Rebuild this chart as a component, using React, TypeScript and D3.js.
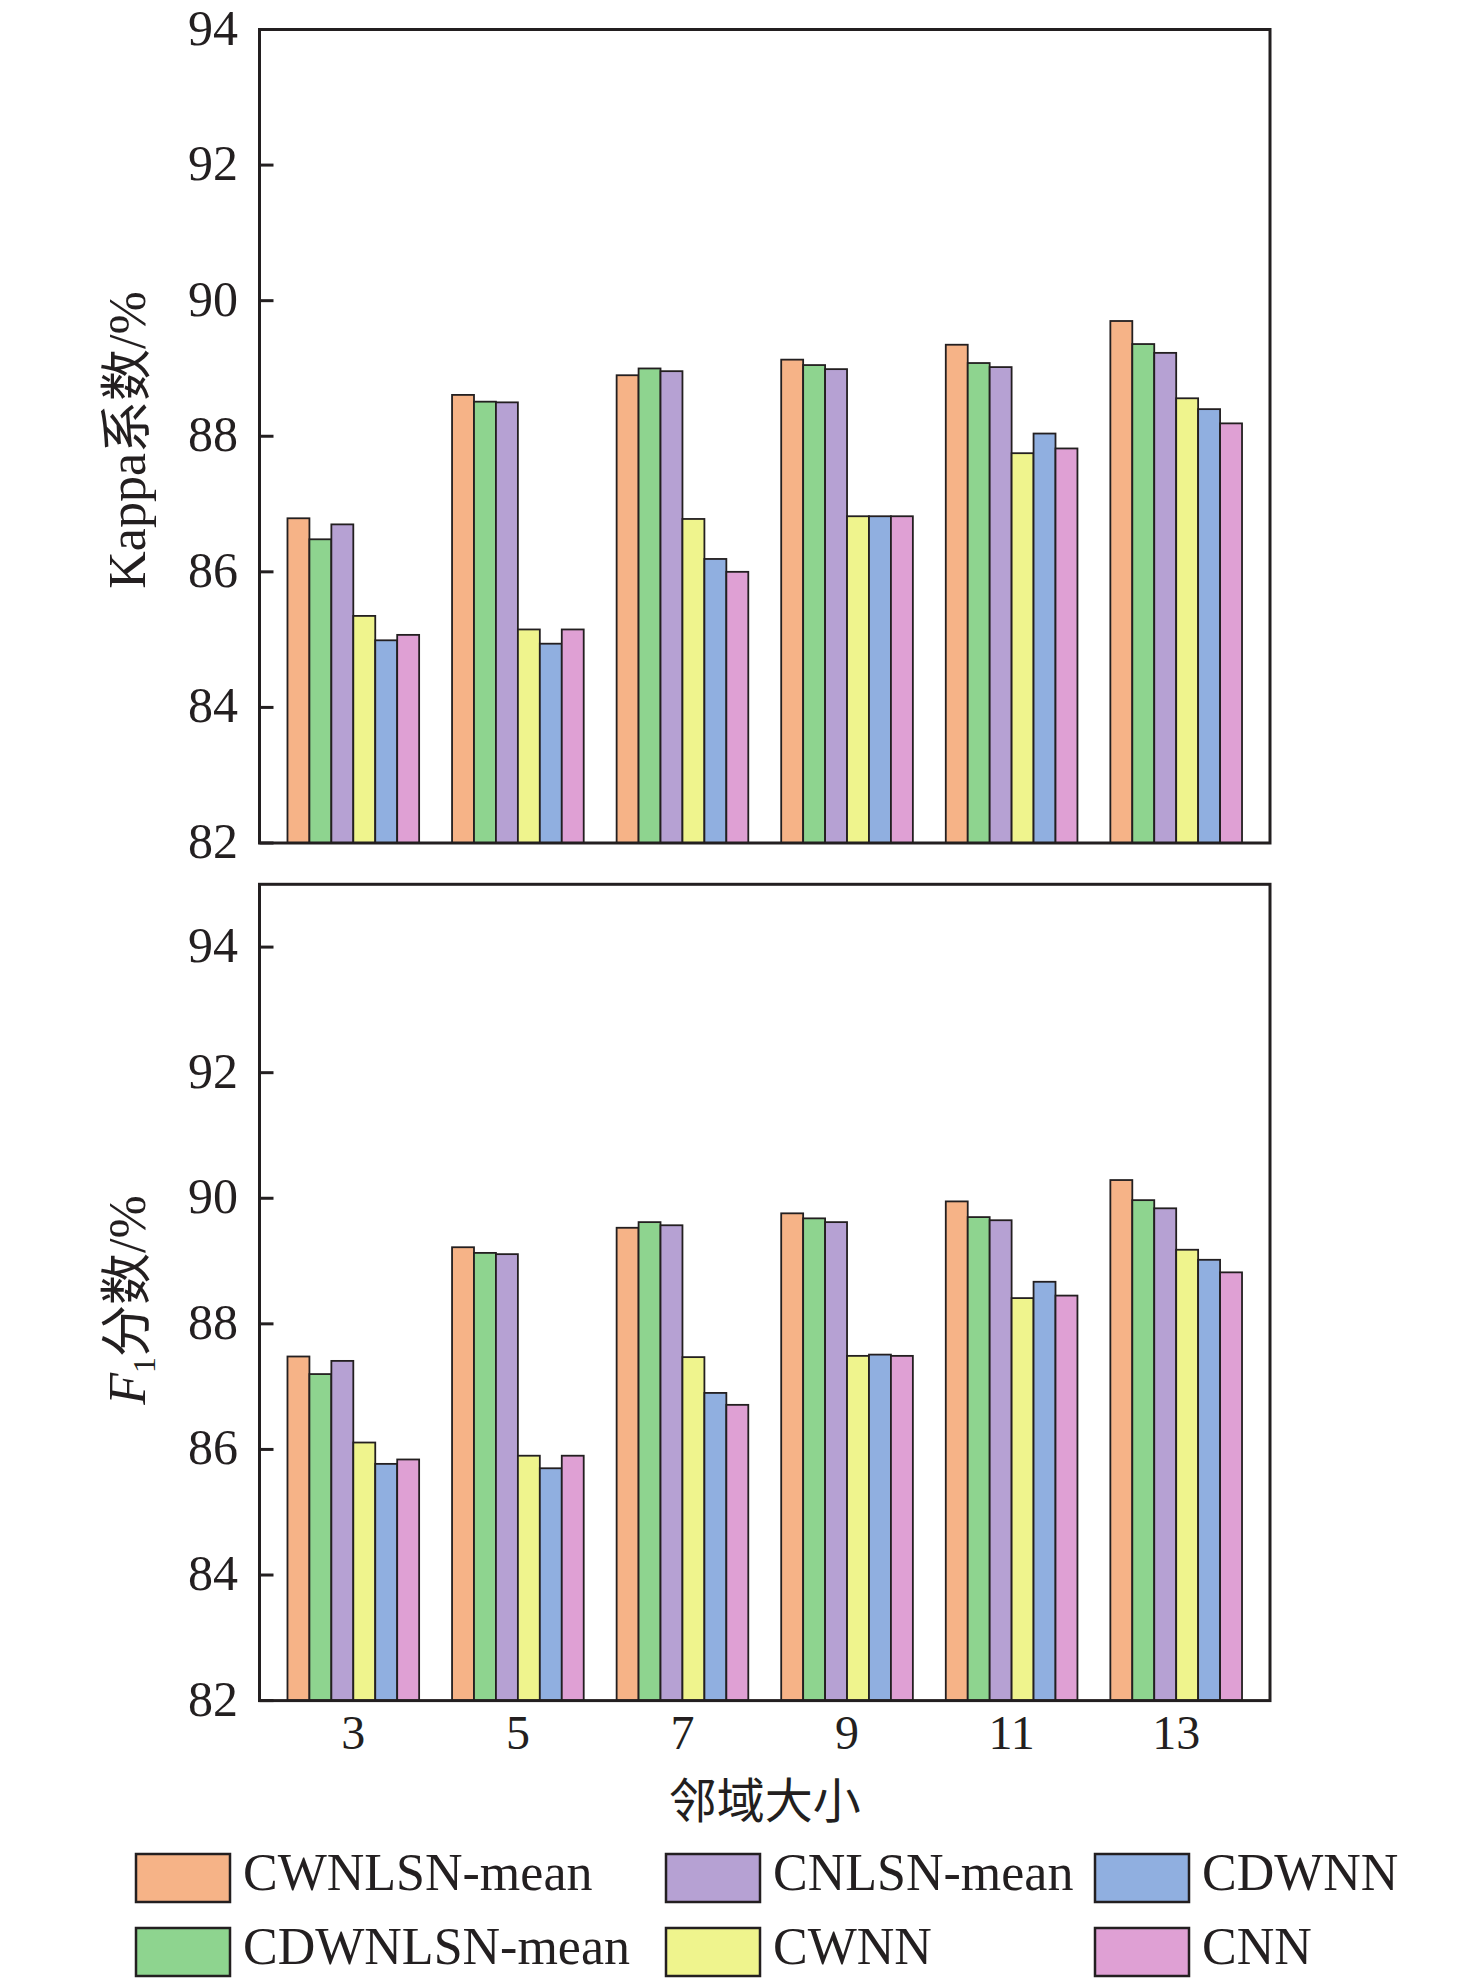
import React from 'react';
import * as d3 from 'd3';

const neighborhoods = ['3', '5', '7', '9', '11', '13'];
const methods = ['CWNLSN-mean', 'CDWNLSN-mean', 'CNLSN-mean', 'CWNN', 'CDWNN', 'CNN'];
const colors = ['#F6B387', '#8ED48F', '#B6A1D3', '#EFF48D', '#90AFE0', '#DFA0D4'];

// Kappa coefficient (%), one row per method, one value per neighborhood size
const kappaCWNLSN = [86.79, 88.61, 88.9, 89.13, 89.35, 89.7];
const kappaCDWNLSN = [86.48, 88.51, 89.0, 89.05, 89.08, 89.36];
const kappaCNLSN = [86.7, 88.5, 88.96, 88.99, 89.02, 89.23];
const kappaCWNN = [85.35, 85.15, 86.78, 86.82, 87.75, 88.56];
const kappaCDWNN = [84.99, 84.94, 86.19, 86.82, 88.04, 88.4];
const kappaCNN = [85.07, 85.15, 86.0, 86.82, 87.82, 88.19];

// F1 score (%)
const f1CWNLSN = [87.48, 89.22, 89.53, 89.76, 89.95, 90.29];
const f1CDWNLSN = [87.2, 89.13, 89.62, 89.68, 89.7, 89.97];
const f1CNLSN = [87.41, 89.11, 89.57, 89.62, 89.65, 89.84];
const f1CWNN = [86.11, 85.9, 87.47, 87.49, 88.41, 89.18];
const f1CDWNN = [85.77, 85.7, 86.9, 87.51, 88.67, 89.02];
const f1CNN = [85.84, 85.9, 86.71, 87.49, 88.45, 88.82];

const kappaTicks = [82, 84, 86, 88, 90, 92, 94];
const f1Ticks = [82, 84, 86, 88, 90, 92, 94];

const kappaSeries = [kappaCWNLSN, kappaCDWNLSN, kappaCNLSN, kappaCWNN, kappaCDWNN, kappaCNN];
const f1Series = [f1CWNLSN, f1CDWNLSN, f1CNLSN, f1CWNN, f1CDWNN, f1CNN];

const W = 1476;
const H = 1983;
const left = 259.5;
const right = 1270;
const serif = "'Liberation Serif', 'Times New Roman', 'Noto Sans CJK SC', serif";
const cjk = "'Noto Sans CJK SC', 'Liberation Serif', serif";
const ink = '#231F20';

const x0 = d3.scaleBand<string>().domain(neighborhoods).range([left, right])
  .paddingInner(0.2).paddingOuter(0.17);
const x1 = d3.scaleBand<string>().domain(methods).range([0, x0.bandwidth()]).padding(0);

interface PanelProps {
  series: number[][];
  domain: [number, number];
  range: [number, number];
  ticks: number[];
}

const Panel: React.FC<PanelProps> = ({ series, domain, range, ticks }) => {
  const y = d3.scaleLinear().domain(domain).range(range);
  const [bottom, top] = range;
  return (
    <g>
      {/* bars */}
      {neighborhoods.map((n, i) => (
        <g key={n} transform={`translate(${x0(n)},0)`}>
          {methods.map((m, j) => (
            <rect
              key={m}
              x={x1(m)}
              y={y(series[j][i])}
              width={x1.bandwidth()}
              height={bottom - y(series[j][i])}
              fill={colors[j]}
              stroke={ink}
              strokeWidth={1.8}
            />
          ))}
        </g>
      ))}
      {/* frame */}
      <rect x={left} y={top} width={right - left} height={bottom - top}
        fill="none" stroke={ink} strokeWidth={3} />
      {/* left ticks, pointing inward */}
      {ticks.map(t => (
        <g key={t}>
          <line x1={left} x2={left + 14} y1={y(t)} y2={y(t)} stroke={ink} strokeWidth={3} />
          <text x={238} y={y(t)} dy="0.3em" textAnchor="end"
            fontFamily={serif} fontSize={50} fill={ink}>{t}</text>
        </g>
      ))}
    </g>
  );
};

export default function App() {
  const legendCols = [136, 666, 1095];
  const legendRows = [1854, 1928];
  return (
    <svg width={W} height={H} style={{ position: 'absolute', left: 0, top: 0, background: '#fff' }}>
      <rect width={W} height={H} fill="#fff" />
      <Panel series={kappaSeries} domain={[82, 94]} range={[843, 29.5]} ticks={kappaTicks} />
      <Panel series={f1Series} domain={[82, 95]} range={[1700.6, 884.3]} ticks={f1Ticks} />

      {/* y axis titles */}
      <text transform="translate(145,440) rotate(-90)" textAnchor="middle"
        fontFamily={serif} fontSize={52} fill={ink}>
        Kappa<tspan fontFamily={cjk}>系数</tspan>/%
      </text>
      <text transform="translate(145,1300) rotate(-90)" textAnchor="middle"
        fontFamily={serif} fontSize={52} fill={ink}>
        <tspan fontStyle="italic">F</tspan>
        <tspan fontSize={32} dy={10}>1</tspan>
        <tspan fontFamily={cjk} dy={-10}>分数</tspan>/%
      </text>

      {/* x tick labels */}
      {neighborhoods.map(n => (
        <text key={n} x={(x0(n) ?? 0) + x0.bandwidth() / 2} y={1749} textAnchor="middle"
          fontFamily={serif} fontSize={48} fill={ink}>{n}</text>
      ))}
      <text x={(left + right) / 2} y={1818} textAnchor="middle"
        fontFamily={cjk} fontSize={48} fill={ink}>邻域大小</text>

      {/* legend, column-major */}
      {methods.map((m, k) => {
        const cx = legendCols[Math.floor(k / 2)];
        const cy = legendRows[k % 2];
        return (
          <g key={m}>
            <rect x={cx} y={cy} width={94} height={48} fill={colors[k]} stroke={ink} strokeWidth={2.5} />
            <text x={cx + 107} y={cy + 36} fontFamily={serif} fontSize={52} fill={ink}>{m}</text>
          </g>
        );
      })}
    </svg>
  );
}
